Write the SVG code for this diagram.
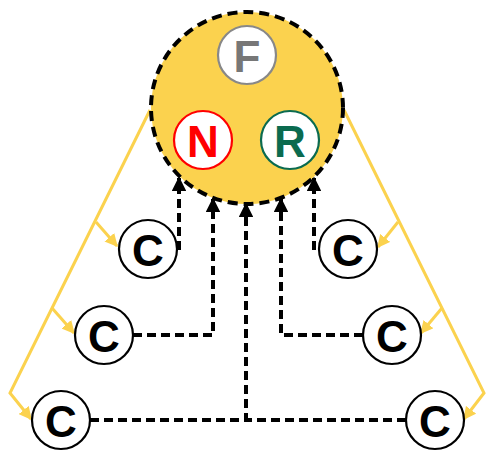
<svg xmlns="http://www.w3.org/2000/svg" width="487" height="458" viewBox="0 0 487 458">
  <style>
    .lbl { font-family: "Liberation Sans", Arial, sans-serif; font-weight: bold; font-size: 44px; text-anchor: middle; dominant-baseline: central; }
    .feed { fill: none; stroke: #FBD24E; stroke-width: 3; }
    .link { fill: none; stroke: #000; stroke-width: 4; stroke-dasharray: 9 5; }
    .node { fill: #fff; stroke-width: 2.2; }
  </style>
  <defs>
    <marker id="ah" viewBox="0 0 10 10" refX="9" refY="5" markerWidth="3.6" markerHeight="3.6" orient="auto" markerUnits="strokeWidth">
      <path d="M0,0 L10,5 L0,10 z" fill="#000"/>
    </marker>
    <marker id="ay" viewBox="0 0 10 10" refX="9" refY="5" markerWidth="4.3" markerHeight="4.3" orient="auto" markerUnits="strokeWidth">
      <path d="M0,0 L10,5 L0,10 z" fill="#FBD24E"/>
    </marker>
  </defs>

  <!-- yellow distribution lines -->
  <g id="feeds">
    <path class="feed" d="M150,110 L10,393 L31,419" marker-end="url(#ay)"/>
    <path class="feed" d="M96,222 L117,246" marker-end="url(#ay)"/>
    <path class="feed" d="M52,308 L74,333" marker-end="url(#ay)"/>
    <path class="feed" d="M344,110 L484,393 L464,419" marker-end="url(#ay)"/>
    <path class="feed" d="M398,222 L378,247" marker-end="url(#ay)"/>
    <path class="feed" d="M442,308 L421,333" marker-end="url(#ay)"/>
  </g>

  <!-- hub -->
  <g id="hub">
    <circle cx="247" cy="108" r="96" fill="#FBD24E" stroke="#000" stroke-width="4" stroke-dasharray="10 6"/>
  </g>

  <!-- dashed return links -->
  <g id="connectors">
    <path class="link" d="M179,250 L179,178" marker-end="url(#ah)"/>
    <path class="link" d="M133,335 L213,335 L213,199" marker-end="url(#ah)"/>
    <path class="link" d="M90,420 L246,420 L246,204" marker-end="url(#ah)"/>
    <path class="link" d="M406,420 L246,420"/>
    <path class="link" d="M363,335 L281,335 L281,199" marker-end="url(#ah)"/>
    <path class="link" d="M314,250 L314,178" marker-end="url(#ah)"/>
  </g>

  <g id="node-F">
    <circle class="node" cx="247" cy="55" r="29" stroke="#888"/>
    <text class="lbl" x="247" y="56" fill="#777">F</text>
  </g>
  <g id="node-N">
    <circle class="node" cx="203" cy="140" r="29" stroke="#F00"/>
    <text class="lbl" x="203" y="141" fill="#F00">N</text>
  </g>
  <g id="node-R">
    <circle class="node" cx="290" cy="140" r="29" stroke="#0B6B4F"/>
    <text class="lbl" x="290" y="141" fill="#0B6B4F">R</text>
  </g>

  <g id="node-C1">
    <circle class="node" cx="148" cy="249" r="29" stroke="#000"/>
    <text class="lbl" x="148" y="250">C</text>
  </g>
  <g id="node-C2">
    <circle class="node" cx="104" cy="335" r="29" stroke="#000"/>
    <text class="lbl" x="104" y="336">C</text>
  </g>
  <g id="node-C3">
    <circle class="node" cx="61" cy="420" r="29" stroke="#000"/>
    <text class="lbl" x="61" y="421">C</text>
  </g>
  <g id="node-C4">
    <circle class="node" cx="348" cy="249" r="29" stroke="#000"/>
    <text class="lbl" x="348" y="250">C</text>
  </g>
  <g id="node-C5">
    <circle class="node" cx="392" cy="335" r="29" stroke="#000"/>
    <text class="lbl" x="392" y="336">C</text>
  </g>
  <g id="node-C6">
    <circle class="node" cx="435" cy="420" r="29" stroke="#000"/>
    <text class="lbl" x="435" y="421">C</text>
  </g>
</svg>
